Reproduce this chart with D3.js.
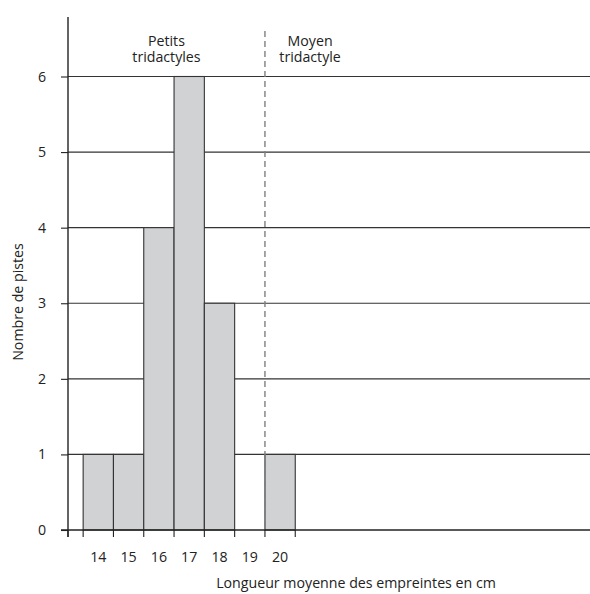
<!DOCTYPE html>
<html><head><meta charset="utf-8">
<script src="https://cdn.jsdelivr.net/npm/d3@7"></script>
<style>body{margin:0;background:#fff}svg{display:block}text{font-family:"Open Sans","Noto Sans",sans-serif;fill:#222}</style>
</head><body><svg id="c" width="590" height="594"></svg>
<script>
const lengths = [14, 15, 16, 17, 18, 19, 20];
const counts = [1, 1, 4, 6, 3, 0, 1];
const yTicks = [0, 1, 2, 3, 4, 5, 6];
const xTickLabels = ["14", "15", "16", "17", "18", "19", "20"];
const groupLabels = [["Petits", "tridactyles"], ["Moyen", "tridactyle"]];
const groupCenters = [16.25, 20.99];
const separator = 19.5;

const FS = 14.2;
const svg = d3.select("#c");
const x = d3.scaleLinear().domain([13, 30]).range([68, 583.1]);
const y = d3.scaleLinear().domain([0, 6]).range([530, 76.5]);
const right = 590;

// gridlines
svg.append("g").selectAll("line").data(yTicks.slice(1)).join("line")
  .attr("x1", x(13)).attr("x2", right).attr("y1", d => y(d)).attr("y2", d => y(d))
  .attr("stroke", "#333").attr("stroke-width", 1.1);

// bars
svg.append("g").selectAll("rect").data(lengths.map((l, i) => ({l, c: counts[i]})).filter(d => d.c > 0)).join("rect")
  .attr("x", d => x(d.l - 0.5)).attr("width", d => x(d.l + 0.5) - x(d.l - 0.5))
  .attr("y", d => y(d.c)).attr("height", d => y(0) - y(d.c))
  .attr("fill", "#d1d2d4").attr("stroke", "#333").attr("stroke-width", 1.1);

// dashed separator
svg.append("line").attr("x1", x(separator)).attr("x2", x(separator)).attr("y1", 31).attr("y2", y(0))
  .attr("stroke", "#808080").attr("stroke-width", 1.4).attr("stroke-dasharray", "6,4");

// y axis
const yAxis = d3.axisLeft(y).tickValues(yTicks).tickSize(7).tickPadding(15).tickFormat(d3.format("d"));
const gy = svg.append("g").attr("transform", `translate(${x(13)},0)`).call(yAxis);
gy.select(".domain").remove();
gy.selectAll(".tick line").attr("stroke", "#222").attr("stroke-width", 1.1);
gy.selectAll(".tick text").attr("font-size", FS).attr("fill", "#222");
svg.append("line").attr("x1", x(13)).attr("x2", x(13)).attr("y1", 17).attr("y2", y(0) + 7)
  .attr("stroke", "#222").attr("stroke-width", 1.4);

// x axis baseline
svg.append("line").attr("x1", x(13) - 7).attr("x2", right).attr("y1", y(0)).attr("y2", y(0))
  .attr("stroke", "#222").attr("stroke-width", 1.4);
// x tick marks at bin edges
const edges = [13].concat(lengths.map(l => l - 0.5), [lengths[lengths.length - 1] + 0.5]);
svg.append("g").selectAll("line").data(edges).join("line")
  .attr("x1", d => x(d)).attr("x2", d => x(d)).attr("y1", y(0)).attr("y2", y(0) + 7)
  .attr("stroke", "#222").attr("stroke-width", 1.1);
// x tick labels at bin centres
svg.append("g").selectAll("text").data(lengths).join("text")
  .attr("x", d => x(d)).attr("y", 562).attr("text-anchor", "middle").attr("font-size", FS)
  .text((d, i) => xTickLabels[i]);

// axis titles
svg.append("text").attr("x", 356).attr("y", 588).attr("text-anchor", "middle").attr("font-size", FS)
  .text("Longueur moyenne des empreintes en cm");
svg.append("text").attr("transform", "translate(23,302) rotate(-90)").attr("text-anchor", "middle").attr("font-size", FS)
  .text("Nombre de pistes");

// group labels
groupLabels.forEach((lines, i) => {
  const t = svg.append("text").attr("text-anchor", "middle").attr("font-size", FS);
  lines.forEach((s, j) => t.append("tspan").attr("x", x(groupCenters[i])).attr("y", 46 + j * 16).text(s));
});
</script></body></html>
